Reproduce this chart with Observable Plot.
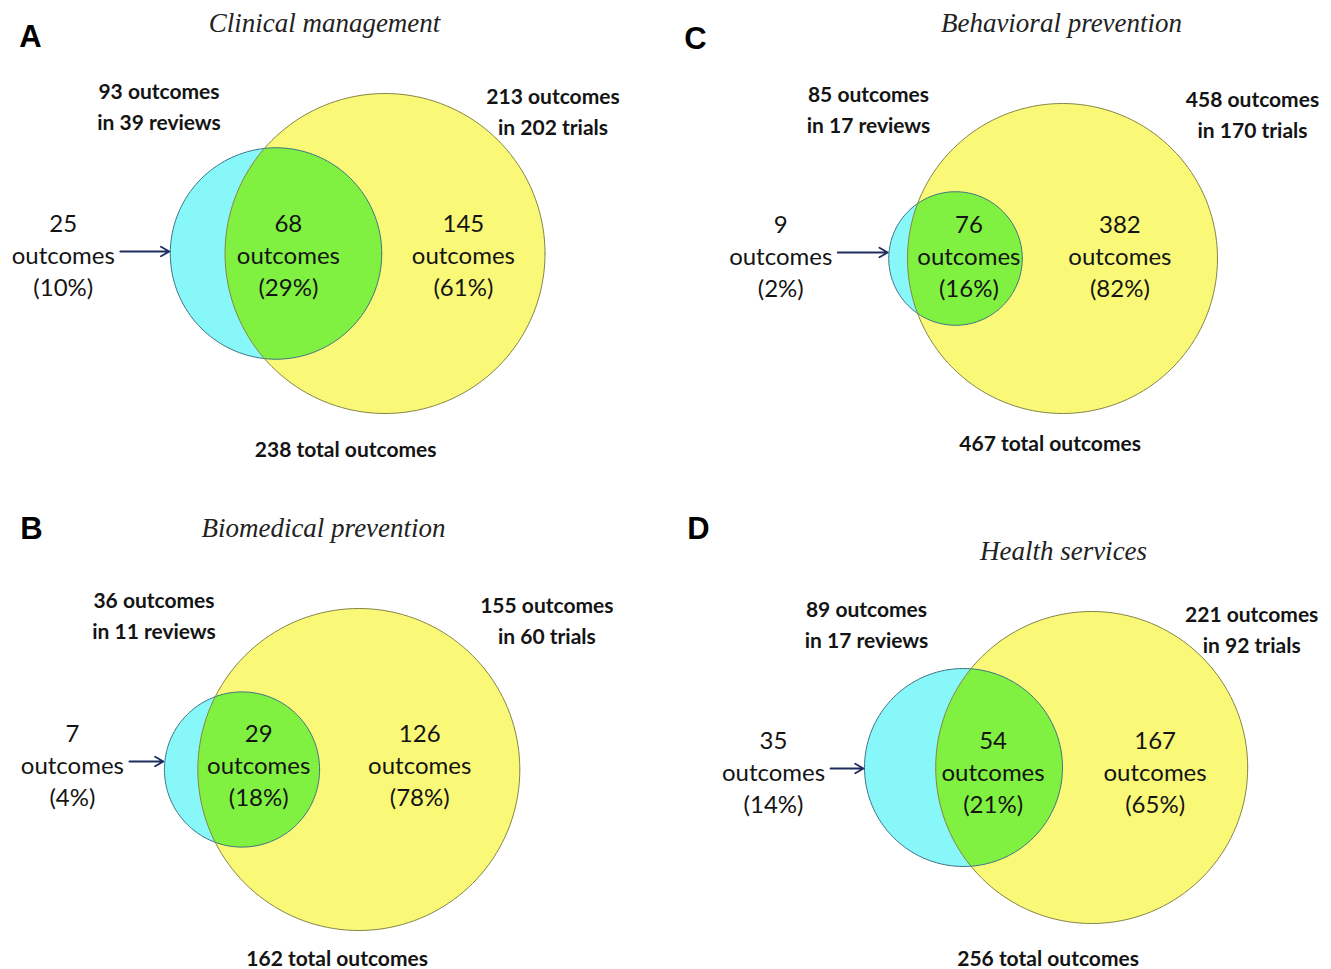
<!DOCTYPE html>
<html><head><meta charset="utf-8">
<script src="https://cdn.jsdelivr.net/npm/d3@7"></script>
<script src="https://cdn.jsdelivr.net/npm/@observablehq/plot@0.6"></script>
<style>
html,body{margin:0;padding:0;background:#fff;}
#root{position:relative;width:1331px;height:969px;overflow:hidden;}
.panel{position:absolute;}
</style></head><body>
<div id="root"></div>
<script>
// ---- data ----
const panelLetters   = ["A", "B", "C", "D"];
const panelTitles    = ["Clinical management", "Biomedical prevention", "Behavioral prevention", "Health services"];
const reviewOnly     = [25, 7, 9, 35];
const overlapBoth    = [68, 29, 76, 54];
const trialOnly      = [145, 126, 382, 167];
const reviewOutcomes = [93, 36, 85, 89];
const reviewCounts   = [39, 11, 17, 17];
const trialOutcomes  = [213, 155, 458, 221];
const trialCounts    = [202, 60, 170, 92];
const totalOutcomes  = [238, 162, 467, 256];
const pctReviewOnly  = [10, 4, 2, 14];
const pctBoth        = [29, 18, 16, 21];
const pctTrialOnly   = [61, 78, 82, 65];

// ---- layout (pixels, per panel) ----
const layout = [
  {left:0,   top:0,   w:665, h:485, cx:275.5, cy:253, R:160, titleX:324, titleY:23, letX:30, letY:37, gap:107, textDy:0,  lensDx:-15, revDx:-117, revDy:11,  triDx:8,  triDy:16, totDx:-12, totDy:37},
  {left:0,   top:485, w:665, h:484, cx:241.5, cy:284, R:161, titleX:323, titleY:43, letX:31, letY:44, gap:92,  textDy:-6, lensDx:0,   revDx:-88,  revDy:5,   triDx:27, triDy:10, totDx:-5,  totDy:29},
  {left:665, top:0,   w:666, h:485, cx:290,   cy:258, R:155, titleX:396, titleY:23, letX:30, letY:39, gap:108, textDy:-4, lensDx:4,   revDx:-87,  revDy:4.5, triDx:35, triDy:9,  totDx:-3,  totDy:31},
  {left:665, top:485, w:666, h:484, cx:298,   cy:282, R:156, titleX:398, titleY:66, letX:33, letY:44, gap:91,  textDy:3,  lensDx:-6,  revDx:-97,  revDy:11,  triDx:4,  triDy:16, totDx:-8,  totDy:36}
];

const CYAN = "#88f7fa", YELLOW = "#f9f977", GREEN = "#80f141";
const CYAN_STROKE = "#3d7584", YELLOW_STROKE = "#858548";
const TEXT = "#141414", ARROW = "#1e2d5e";
const SANS = "Lato, 'Open Sans', sans-serif";

function lensArea(r1, r2, d) {
  if (d >= r1 + r2) return 0;
  if (d <= Math.abs(r1 - r2)) return Math.PI * Math.min(r1, r2) ** 2;
  const a = r1 * r1 * Math.acos((d * d + r1 * r1 - r2 * r2) / (2 * d * r1));
  const b = r2 * r2 * Math.acos((d * d + r2 * r2 - r1 * r1) / (2 * d * r2));
  const c = 0.5 * Math.sqrt((-d + r1 + r2) * (d + r1 - r2) * (d - r1 + r2) * (d + r1 + r2));
  return a + b - c;
}
function solveDistance(r1, r2, area) {
  let lo = Math.abs(r1 - r2) + 1e-9, hi = r1 + r2;
  for (let i = 0; i < 80; i++) {
    const mid = (lo + hi) / 2;
    if (lensArea(r1, r2, mid) > area) lo = mid; else hi = mid;
  }
  return (lo + hi) / 2;
}
function arc(cx, cy, r, a0, a1, n = 160) {
  return d3.range(n + 1).map(i => {
    const a = a0 + (a1 - a0) * i / n;
    return {x: cx + r * Math.cos(a), y: cy + r * Math.sin(a)};
  });
}

const root = document.getElementById("root");

panelLetters.forEach((letter, i) => {
  const L = layout[i];
  // circle areas proportional to outcome counts; overlap area = shared outcomes
  const r1 = Math.sqrt(reviewOutcomes[i] / Math.PI);
  const r2 = Math.sqrt(trialOutcomes[i] / Math.PI);
  const d = solveDistance(r1, r2, overlapBoth[i]);
  const k = L.R / r2; // px per unit

  const blue = arc(0, 0, r1, 0, 2 * Math.PI);
  const yellow = arc(d, 0, r2, 0, 2 * Math.PI);
  const xi = (d * d + r1 * r1 - r2 * r2) / (2 * d);
  const hi = Math.sqrt(Math.max(0, r1 * r1 - xi * xi));
  const t1 = Math.atan2(hi, xi);
  const t2 = Math.atan2(hi, xi - d);
  const lens = arc(0, 0, r1, -t1, t1).concat(arc(d, 0, r2, t2, 2 * Math.PI - t2));

  const blueLeft = -r1, blueRight = r1, yellowLeft = d - r2, yellowRight = d + r2;
  const px = v => v / k;

  const labelX = blueLeft - px(L.gap);
  const lines = (a, b, c) => `${a}\n${b}\n${c}`;
  const regionStyle = {x: "x", y: "y", text: "t", fontSize: 24, lineHeight: 1.33, fill: TEXT, fontFamily: SANS, dy: L.textDy};

  const plot = Plot.plot({
    width: L.w, height: L.h, margin: 0,
    x: {domain: [-L.cx / k, (L.w - L.cx) / k], range: [0, L.w], axis: null},
    y: {domain: [-(L.h - L.cy) / k, L.cy / k], range: [L.h, 0], axis: null},
    style: {background: "transparent", overflow: "visible"},
    marks: [
      Plot.line(blue, {x: "x", y: "y", fill: CYAN, stroke: "none"}),
      Plot.line(yellow, {x: "x", y: "y", fill: YELLOW, stroke: "none"}),
      Plot.line(lens, {x: "x", y: "y", fill: GREEN, stroke: "none"}),
      Plot.line(blue, {x: "x", y: "y", stroke: CYAN_STROKE, strokeWidth: 1}),
      Plot.line(yellow, {x: "x", y: "y", stroke: YELLOW_STROKE, strokeWidth: 1}),
      // region counts
      Plot.text([{x: labelX, y: 0, t: lines(reviewOnly[i], "outcomes", `(${pctReviewOnly[i]}%)`)}], regionStyle),
      Plot.text([{x: (yellowLeft + blueRight) / 2, y: 0, t: lines(overlapBoth[i], "outcomes", `(${pctBoth[i]}%)`)}], {...regionStyle, dx: L.lensDx}),
      Plot.text([{x: (blueRight + yellowRight) / 2, y: 0, t: lines(trialOnly[i], "outcomes", `(${pctTrialOnly[i]}%)`)}], regionStyle),
      // arrow from the review-only label to the blue circle
      Plot.arrow([{x1: labelX, x2: blueLeft, y: 0}],
        {x1: "x1", x2: "x2", y1: "y", y2: "y", stroke: ARROW, strokeWidth: 1.8, headLength: 8, insetStart: 57, insetEnd: 1, dy: L.textDy - 2}),
      // set totals
      Plot.text([{x: 0, y: r2, t: `${reviewOutcomes[i]} outcomes\nin ${reviewCounts[i]} reviews`}],
        {x: "x", y: "y", text: "t", fontSize: 21, fontWeight: "bold", lineHeight: 1.48, fill: TEXT, fontFamily: SANS, dx: L.revDx, dy: L.revDy}),
      Plot.text([{x: yellowRight, y: r2, t: `${trialOutcomes[i]} outcomes\nin ${trialCounts[i]} trials`}],
        {x: "x", y: "y", text: "t", fontSize: 21, fontWeight: "bold", lineHeight: 1.48, fill: TEXT, fontFamily: SANS, dx: L.triDx, dy: L.triDy}),
      Plot.text([{x: (blueLeft + yellowRight) / 2, y: -r2, t: `${totalOutcomes[i]} total outcomes`}],
        {x: "x", y: "y", text: "t", fontSize: 21, fontWeight: "bold", fill: TEXT, fontFamily: SANS, dx: L.totDx, dy: L.totDy}),
      // title and panel letter
      Plot.text([panelTitles[i]], {frameAnchor: "top-left", text: d => d, dx: L.titleX, dy: L.titleY, textAnchor: "middle", lineAnchor: "middle",
        fontSize: 27, fontStyle: "italic", fontFamily: "'Liberation Serif', serif", fill: "#222"}),
      Plot.text([letter], {frameAnchor: "top-left", text: d => d, dx: L.letX, dy: L.letY, textAnchor: "middle", lineAnchor: "middle",
        fontSize: 31, fontWeight: "bold", fontFamily: "'Liberation Sans', Arial, sans-serif", fill: "#000"})
    ]
  });
  const div = document.createElement("div");
  div.className = "panel";
  div.style.left = L.left + "px";
  div.style.top = L.top + "px";
  div.appendChild(plot);
  root.appendChild(div);
});
</script>
</body></html>
